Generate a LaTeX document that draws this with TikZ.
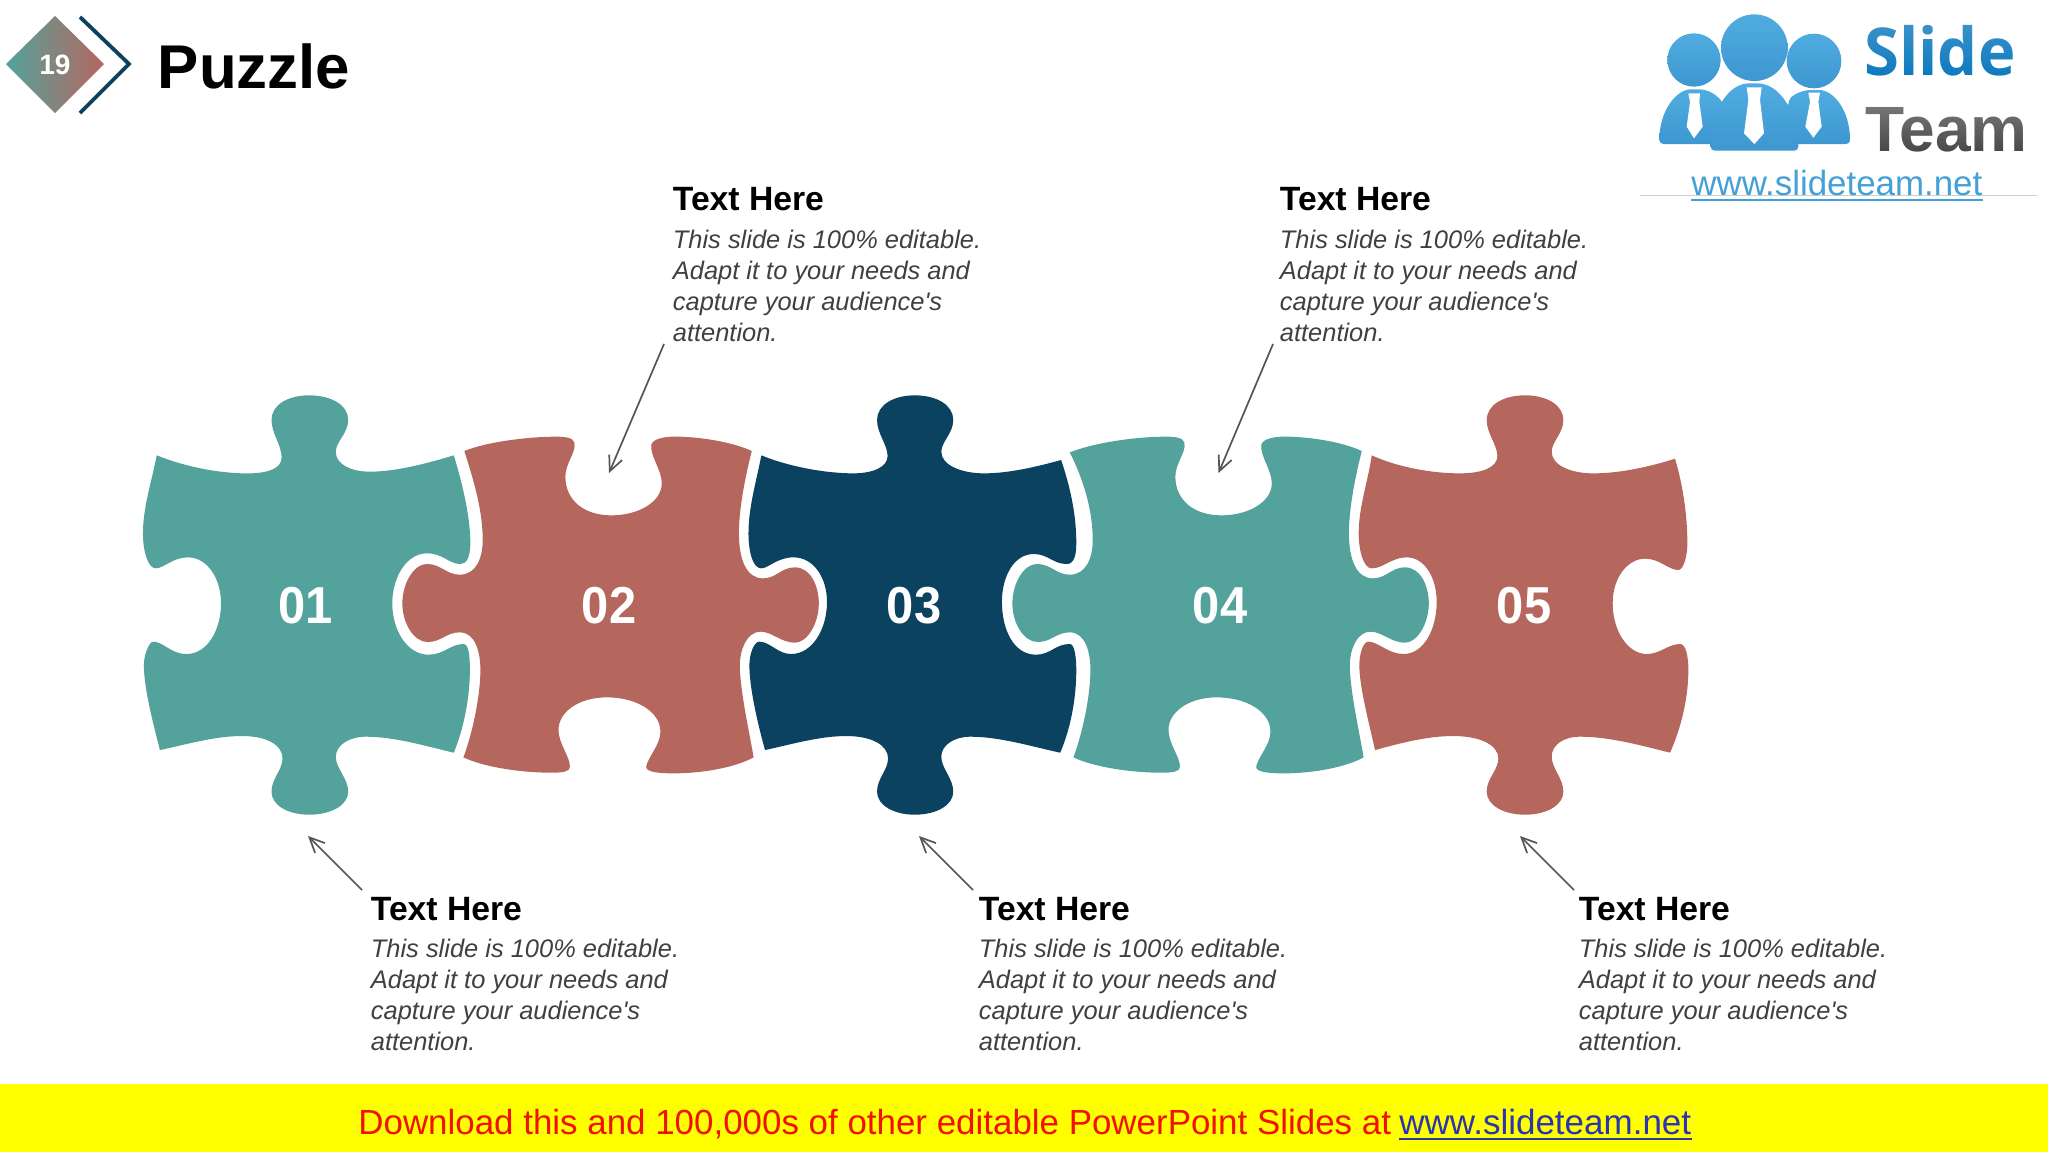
\documentclass[tikz,border=0pt]{standalone}
\usepackage{fontspec}
\setmainfont{Liberation Sans}
\newfontfamily\logofont{Open Sans}
\newfontfamily\plainfont{Liberation Sans}[Ligatures=TeXOff]
\usetikzlibrary{arrows.meta,fadings,calc}
\definecolor{tealp}{HTML}{53A29C}
\definecolor{brickp}{HTML}{B5675E}
\definecolor{navyp}{HTML}{0A425F}
\definecolor{bodyg}{HTML}{404040}
\definecolor{arrowg}{HTML}{555555}
\definecolor{logoa}{HTML}{4FACE0}
\definecolor{logob}{HTML}{3E97D0}
\definecolor{logourl}{HTML}{45A0D6}
\definecolor{logoslide}{HTML}{0A78BE}
\definecolor{logoteam}{HTML}{454545}
\definecolor{logoline}{HTML}{C8D0D8}
\definecolor{bannery}{HTML}{FFFF00}
\definecolor{bannerred}{HTML}{F21000}
\definecolor{bannerblue}{HTML}{2B35AF}
\newcommand{\fsz}[1]{\fontsize{#1}{#1}\selectfont}
\newcommand{\blurb}{This slide is 100\% editable.\\Adapt it to your needs and\\capture your audience's\\attention.}
\newcommand{\pieceTwo}[1]{(#1)
 .. controls (800,215) and (890,200) .. (950,200)
 .. controls (985,200) and (992,210) .. (990,230)
 .. controls (988,255) and (970,285) .. (970,320)
 .. controls (970,390) and (1010,436) .. (1070,436)
 .. controls (1130,436) and (1180,395) .. (1180,340)
 .. controls (1180,300) and (1155,260) .. (1157,225)
 .. controls (1160,205) and (1190,198) .. (1220,200)
 .. controls (1280,203) and (1340,220) .. (1376,243)
 .. controls (1360,330) and (1348,420) .. (1348,490)
 .. controls (1348,570) and (1365,625) .. (1400,625)
 .. controls (1430,625) and (1440,592) .. (1470,592)
 .. controls (1505,592) and (1522,650) .. (1522,700)
 .. controls (1522,760) and (1497,818) .. (1470,818)
 .. controls (1440,818) and (1420,785) .. (1395,785)
 .. controls (1365,785) and (1350,840) .. (1350,885)
 .. controls (1350,960) and (1370,1080) .. (1380,1162)
 .. controls (1340,1192) and (1270,1210) .. (1205,1210)
 .. controls (1170,1210) and (1145,1205) .. (1146,1190)
 .. controls (1150,1160) and (1177,1125) .. (1177,1085)
 .. controls (1177,1025) and (1125,982) .. (1060,982)
 .. controls (1000,982) and (955,1025) .. (955,1080)
 .. controls (955,1120) and (980,1160) .. (980,1190)
 .. controls (980,1205) and (965,1208) .. (940,1208)
 .. controls (870,1208) and (790,1190) .. (748,1162)
 .. controls (770,1080) and (785,970) .. (785,900)
 .. controls (785,850) and (775,787) .. (740,787)
 .. controls (710,787) and (700,816) .. (670,816)
 .. controls (640,816) and (615,760) .. (615,700)
 .. controls (615,640) and (640,582) .. (668,582)
 .. controls (700,582) and (710,614) .. (740,614)
 .. controls (775,614) and (790,565) .. (790,510)
 .. controls (790,420) and (770,330) .. (#1) -- cycle}
\tikzset{
  zoomwide/.style={x=0.22957pt,y=-0.16667pt},
  zoomsq/.style={x=0.16667pt,y=-0.16667pt},
  numtxt/.style={anchor=base,text=white,font=\bfseries\fsz{26},inner sep=0,xscale=0.94,transform shape},
  headtxt/.style={anchor=base west,text=black,font=\bfseries\fsz{16.85},inner sep=0},
  bodytxt/.style={anchor=base west,text=bodyg,font=\plainfont\itshape\fontsize{12.72}{15.5}\selectfont,align=left,inner sep=0},
  callout/.style={draw=arrowg,line width=0.85pt,-{Straight Barb[length=7.5pt,width=7pt]}},
  logoshade/.style={top color=logoa,bottom color=logob},
}
\begin{document}
\begin{tikzpicture}[x=0.5pt,y=-0.5pt]
\useasboundingbox (0,0) rectangle (2048,1152);
\fill[white] (0,0) rectangle (2048,1152);

% header badge
\shade[left color=tealp,right color=brickp] (55,16) -- (104,64) -- (55,113) -- (6,64) -- cycle;
\draw[navyp,line width=1.9pt,miter limit=10] (80,17) -- (129,64) -- (80,113);
\node[anchor=center,text=white,font=\bfseries\fsz{14},inner sep=0] (badge) at (55,65) {19};
\node[anchor=base west,text=black,font=\bfseries\fsz{30.9},inner sep=0] (title) at (157.5,88) {Puzzle};

% puzzle pieces
\begin{scope}[shift={(120,370)},zoomwide]
\fill[tealp] (80,256)
 .. controls (150,295) and (230,312) .. (285,310)
 .. controls (325,308) and (352,295) .. (352,262)
 .. controls (352,225) and (330,190) .. (330,150)
 .. controls (330,105) and (365,76) .. (412,76)
 .. controls (460,76) and (497,105) .. (497,150)
 .. controls (497,190) and (470,215) .. (470,245)
 .. controls (470,285) and (505,305) .. (545,305)
 .. controls (600,305) and (670,280) .. (727,256)
 .. controls (750,360) and (763,450) .. (763,520)
 .. controls (763,560) and (755,582) .. (742,582)
 .. controls (715,582) and (705,550) .. (668,550)
 .. controls (625,550) and (593,620) .. (593,700)
 .. controls (593,780) and (625,854) .. (672,854)
 .. controls (705,854) and (720,822) .. (748,822)
 .. controls (760,822) and (762,860) .. (762,900)
 .. controls (762,980) and (750,1070) .. (727,1148)
 .. controls (670,1130) and (600,1100) .. (535,1100)
 .. controls (500,1100) and (470,1125) .. (470,1160)
 .. controls (470,1195) and (497,1225) .. (497,1265)
 .. controls (497,1305) and (460,1334) .. (412,1334)
 .. controls (365,1334) and (330,1305) .. (330,1265)
 .. controls (330,1225) and (354,1200) .. (354,1165)
 .. controls (354,1125) and (320,1098) .. (265,1098)
 .. controls (205,1098) and (140,1125) .. (87,1140)
 .. controls (70,1050) and (52,950) .. (52,885)
 .. controls (52,850) and (65,815) .. (72,815)
 .. controls (95,815) and (110,852) .. (145,852)
 .. controls (190,852) and (220,780) .. (220,700)
 .. controls (220,625) and (190,562) .. (148,562)
 .. controls (115,562) and (95,595) .. (78,595)
 .. controls (60,595) and (50,540) .. (50,490)
 .. controls (50,410) and (70,330) .. (80,256) -- cycle;
\fill[brickp] \pieceTwo{750,243};
\end{scope}
\begin{scope}[shift={(730,370)},zoomwide]
\fill[tealp] \pieceTwo{740,247};
\end{scope}
\begin{scope}[shift={(720,370)},zoomwide]
\fill[navyp] (90,256)
 .. controls (150,290) and (230,310) .. (290,310)
 .. controls (335,310) and (365,290) .. (365,258)
 .. controls (365,225) and (342,190) .. (342,150)
 .. controls (342,105) and (378,76) .. (424,76)
 .. controls (472,76) and (508,105) .. (508,150)
 .. controls (508,190) and (482,215) .. (482,245)
 .. controls (482,285) and (525,310) .. (575,310)
 .. controls (630,310) and (690,290) .. (743,270)
 .. controls (765,360) and (776,440) .. (776,520)
 .. controls (776,560) and (770,582) .. (755,582)
 .. controls (725,582) and (715,552) .. (683,552)
 .. controls (640,552) and (614,620) .. (614,695)
 .. controls (614,780) and (640,854) .. (688,854)
 .. controls (720,854) and (730,822) .. (762,822)
 .. controls (772,822) and (776,860) .. (776,900)
 .. controls (776,980) and (765,1070) .. (741,1148)
 .. controls (680,1130) and (610,1100) .. (545,1100)
 .. controls (510,1100) and (482,1125) .. (482,1160)
 .. controls (482,1195) and (508,1225) .. (508,1265)
 .. controls (508,1305) and (472,1334) .. (424,1334)
 .. controls (378,1334) and (342,1305) .. (342,1265)
 .. controls (342,1225) and (366,1200) .. (366,1165)
 .. controls (366,1125) and (330,1098) .. (275,1098)
 .. controls (215,1098) and (150,1125) .. (98,1140)
 .. controls (80,1050) and (64,950) .. (64,885)
 .. controls (64,850) and (75,815) .. (85,815)
 .. controls (110,815) and (125,852) .. (155,852)
 .. controls (200,852) and (233,780) .. (233,695)
 .. controls (233,625) and (205,562) .. (160,562)
 .. controls (125,562) and (105,595) .. (90,595)
 .. controls (70,595) and (62,540) .. (62,490)
 .. controls (62,410) and (80,330) .. (90,256) -- cycle;
\end{scope}
\begin{scope}[shift={(1300,370)},zoomsq]
\fill[brickp] (215,256)
 .. controls (290,290) and (390,310) .. (480,310)
 .. controls (540,310) and (592,295) .. (592,258)
 .. controls (592,225) and (560,190) .. (560,150)
 .. controls (560,105) and (610,76) .. (675,76)
 .. controls (740,76) and (790,105) .. (790,150)
 .. controls (790,190) and (755,215) .. (755,245)
 .. controls (755,285) and (810,310) .. (880,310)
 .. controls (960,310) and (1050,290) .. (1125,266)
 .. controls (1150,350) and (1162,440) .. (1162,520)
 .. controls (1162,560) and (1150,600) .. (1135,600)
 .. controls (1105,600) and (1080,566) .. (1035,566)
 .. controls (985,566) and (938,620) .. (938,700)
 .. controls (938,785) and (985,852) .. (1040,852)
 .. controls (1080,852) and (1105,822) .. (1140,822)
 .. controls (1158,822) and (1165,860) .. (1165,900)
 .. controls (1165,980) and (1145,1070) .. (1110,1148)
 .. controls (1030,1128) and (930,1100) .. (840,1100)
 .. controls (790,1100) and (755,1125) .. (755,1160)
 .. controls (755,1195) and (790,1225) .. (790,1265)
 .. controls (790,1305) and (740,1334) .. (675,1334)
 .. controls (610,1334) and (560,1305) .. (560,1265)
 .. controls (560,1225) and (595,1200) .. (595,1165)
 .. controls (595,1125) and (540,1098) .. (460,1098)
 .. controls (380,1098) and (300,1120) .. (225,1140)
 .. controls (205,1050) and (178,950) .. (178,885)
 .. controls (178,850) and (190,815) .. (205,815)
 .. controls (235,815) and (265,852) .. (310,852)
 .. controls (370,852) and (410,780) .. (410,695)
 .. controls (410,625) and (375,562) .. (320,562)
 .. controls (275,562) and (250,595) .. (215,595)
 .. controls (190,595) and (176,540) .. (176,490)
 .. controls (176,410) and (205,330) .. (215,256) -- cycle;
\end{scope}

% piece numbers
\node[numtxt] (n1) at (306,623) {01};
\node[numtxt] (n2) at (609,623) {02};
\node[numtxt] (n3) at (914,623) {03};
\node[numtxt] (n4) at (1220,623) {04};
\node[numtxt] (n5) at (1524,623) {05};

% callout texts
\node[headtxt] (h1) at (370.5,920) {Text Here};
\node[bodytxt] (b1) at (370.5,1050) {\blurb};
\node[headtxt] (h2) at (672.5,210) {Text Here};
\node[bodytxt] (b2) at (672.5,341) {\blurb};
\node[headtxt] (h3) at (978.5,920) {Text Here};
\node[bodytxt] (b3) at (978.5,1050) {\blurb};
\node[headtxt] (h4) at (1279.5,210) {Text Here};
\node[bodytxt] (b4) at (1279.5,341) {\blurb};
\node[headtxt] (h5) at (1578.5,920) {Text Here};
\node[bodytxt] (b5) at (1578.5,1050) {\blurb};

% callout arrows
\coordinate (s1) at (362,890);  \coordinate (e1) at (308,836);
\coordinate (s2) at (664,344);  \coordinate (e2) at (609,473);
\coordinate (s3) at (973,890);  \coordinate (e3) at (919,836);
\coordinate (s4) at (1273,344); \coordinate (e4) at (1218.5,473);
\coordinate (s5) at (1574,890); \coordinate (e5) at (1520,836);
\foreach \i in {1,...,5} \draw[callout] (s\i) -- (e\i);

% logo
\begin{scope}[shift={(1620,0)},zoomsq]
\shade[logoshade,rounded corners=2pt] (118,432) .. controls (118,330) and (170,268) .. (225,268) .. controls (265,268) and (290,285) .. (310,310) -- (310,432) -- cycle;
\shade[logoshade,rounded corners=2pt] (690,432) .. controls (690,330) and (640,270) .. (585,270) .. controls (545,270) and (520,285) .. (505,300) -- (505,432) -- cycle;
\shade[logoshade] (222,180) circle [x radius=80,y radius=80];
\shade[logoshade] (582,183) circle [x radius=82,y radius=82];
\shade[logoshade] (403,143) circle [x radius=100,y radius=100];
\shade[logoshade,rounded corners=2pt] (272,452) .. controls (272,340) and (320,250) .. (400,250) .. controls (480,250) and (535,340) .. (535,452) -- cycle;
\fill[white] (205,280) -- (240,280) -- (238,305) -- (248,380) -- (222,415) -- (200,380) -- (210,305) -- cycle;
\fill[white] (380,262) -- (425,262) -- (420,300) -- (432,400) -- (403,432) -- (372,400) -- (385,300) -- cycle;
\fill[white] (565,278) -- (600,278) -- (595,305) -- (605,380) -- (580,413) -- (556,380) -- (570,305) -- cycle;
\end{scope}
\node[anchor=base west,text=logoslide,inner sep=0,font=\logofont\bfseries\fsz{33},xscale=0.96,transform shape] (lslide) at (1864,75) {Slide};
\node[anchor=base west,text=logoteam,inner sep=0,font=\bfseries\fsz{32}] (lteam) at (1865,151) {Team};
\fill[white,fill opacity=0.22,path fading=south] (1860,18) rectangle (2020,80);
\fill[white,fill opacity=0.3,path fading=south] (1860,100) rectangle (2030,155);
\draw[logoline,line width=0.5pt] (1640,195) -- (2037,195);
\node[anchor=base west,text=logourl,inner sep=0,font=\fsz{17.45}] (lurl) at (1691,195) {www.slideteam.net};
\draw[logourl,line width=1pt] ($(lurl.base west)+(0,5)$) -- ($(lurl.base east)+(0,5)$);

% download banner
\fill[bannery] (0,1084) rectangle (2048,1152);
\node[anchor=base west,text=bannerred,inner sep=0,font=\fsz{17.46}] (dl) at (358,1134) {Download this and 100,000s of other editable PowerPoint Slides at};
\node[anchor=base west,text=bannerblue,inner sep=0,font=\fsz{17.5}] (dlurl) at (1399,1134) {www.slideteam.net};
\draw[bannerblue,line width=1pt] ($(dlurl.base west)+(0,5)$) -- ($(dlurl.base east)+(0,5)$);
\end{tikzpicture}
\end{document}
